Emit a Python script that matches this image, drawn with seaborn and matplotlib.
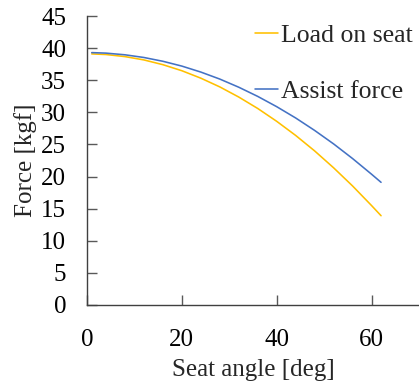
#!/usr/bin/env python3
"""
Seat angle vs force chart
"""

import pandas as pd
import matplotlib.pyplot as plt
import seaborn as sns

# Values
seat_angle = [1, 4, 8, 12, 16, 20, 24, 28, 32, 36, 40, 44, 48, 52, 56, 60, 62]
load_on_seat = [39.10, 39.00, 38.68, 38.16, 37.42, 36.48, 35.32, 33.96, 32.38, 30.60,
                28.60, 26.40, 23.99, 21.36, 18.53, 15.48, 13.90]
assist_force = [39.30, 39.22, 38.96, 38.54, 37.95, 37.20, 36.27, 35.18, 33.91, 32.48,
                30.88, 29.12, 27.18, 25.08, 22.80, 20.36, 19.10]
series_names = ['Load on seat', 'Assist force']
series_colors = ['#FFC000', '#4472C4']
x_ticks = [0, 20, 40, 60]
y_ticks = [0, 5, 10, 15, 20, 25, 30, 35, 40, 45]


def generate_chart():
    sns.set_style("ticks")
    plt.rcParams['font.family'] = ['Liberation Serif', 'DejaVu Serif']

    df = pd.DataFrame({
        'angle': seat_angle * 2,
        'force': load_on_seat + assist_force,
        'series': [series_names[0]] * len(seat_angle) + [series_names[1]] * len(seat_angle),
    })

    fig = plt.figure(figsize=(4.19, 3.82), dpi=100)
    ax = fig.add_axes([0.2076, 0.2016, 0.7924, 0.7565])

    sns.lineplot(data=df, x='angle', y='force', hue='series', hue_order=series_names,
                 palette=series_colors, linewidth=1.15, ax=ax)

    ax.set_xlim(0, 70)
    ax.set_ylim(0, 45)
    ax.set_xticks(x_ticks)
    ax.set_yticks(y_ticks)
    ax.set_xlabel('Seat angle [deg]', fontsize=18, labelpad=6)
    ax.set_ylabel('Force [kgf]', fontsize=18, labelpad=3)

    ax.tick_params(axis='both', direction='in', length=7, width=1, color='#595959',
                   labelsize=18, labelcolor='black')
    ax.tick_params(axis='x', pad=17)
    ax.tick_params(axis='y', pad=15)

    sns.despine(ax=ax)
    for side in ['left', 'bottom']:
        ax.spines[side].set_color('#404040')
        ax.spines[side].set_linewidth(1.0)

    leg = ax.legend(loc='upper right', bbox_to_anchor=(1.05, 1.053), frameon=False,
                    fontsize=18.5, handlelength=0.9, handletextpad=0.1, labelspacing=1.3)
    for line in leg.get_lines():
        line.set_linewidth(1.15)

    fig.savefig('out.png', dpi=100)
    plt.close(fig)


if __name__ == "__main__":
    generate_chart()
